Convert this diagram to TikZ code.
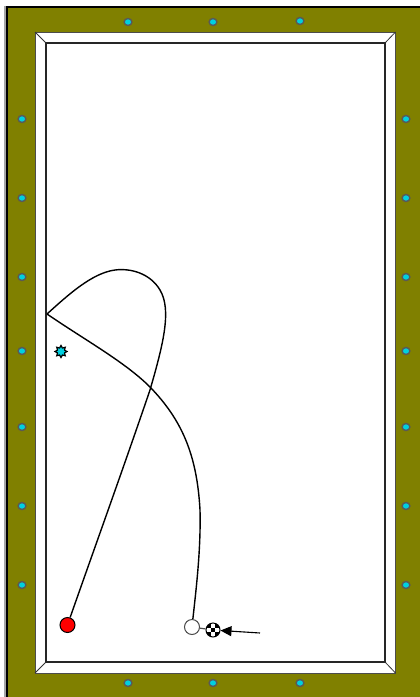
\documentclass[tikz,border=0pt]{standalone}
\usetikzlibrary{arrows.meta,shapes.geometric,shapes.misc}
\definecolor{rail}{HTML}{808000}
\definecolor{dia}{HTML}{00D0E0}
\tikzset{
 x=1pt,y=-1pt,
 diam/.style={circle,draw=black!65,fill=dia,line width=1.4pt,minimum size=7.4pt,inner sep=0pt,xscale=1.05,yscale=.95},
 ball/.style={circle,draw=black,line width=1pt,minimum size=15pt,inner sep=0pt},
 trace/.style={draw=black,line width=1.4pt},
}
\begin{document}
\begin{tikzpicture}
\useasboundingbox (0,0) rectangle (420,697);
\fill[white] (0,0) rectangle (420,697);
\fill[rail] (6.5,7) rectangle (420,697);
\draw[black!35,line width=1.6pt] (4.8,697) -- (4.8,5.5);
\draw[black,line width=2pt] (6.8,697) -- (6.8,7) -- (420,7);
% cushion
\fill[white] (35,32) rectangle (395.5,673);
\draw[black!70,line width=1pt] (395.5,32) -- (35,32) -- (35,673) -- (395.5,673) -- (395.5,32);
\draw[black!80,line width=.8pt] (35,32) -- (46,43) (395.5,32) -- (385,43) (35,673) -- (46,662) (395.5,673) -- (385,662);
\draw[black!85,line width=2pt] (46,43) rectangle (385,662);
% diamonds
\foreach \n/\x/\y in {t1/128/22,t2/213/22,t3/300/21,b1/128/683,b2/213/683,b3/300/683,
 l1/22/119,l2/22/198,l3/22/277,l4/22/351,l5/22/427,l6/22/506,l7/22/585,
 r1/406/119,r2/406/198,r3/406/277,r4/406/351,r5/406/427,r6/406/506,r7/406/585}
 \node[diam] (\n) at (\x,\y) {};
% target star
\node[star,star points=8,star point ratio=1.6,draw=black,fill=dia,line width=1.2pt,minimum size=12pt,inner sep=0pt] (target) at (61,351.5) {};
% balls
\node[ball,fill=red] (objball) at (67.5,625) {};
\node[ball,draw=black!70,fill=white,minimum size=15pt] (ghost) at (192,627) {};
\node[ball,fill=white,minimum size=14pt,path picture={
  \fill[black] (path picture bounding box.center) ++(-2.3pt,-2.3pt) rectangle ++(4.6pt,4.6pt);
  \foreach \sx in {-1,1}\foreach \sy in {-1,1}
    \fill[black] (path picture bounding box.center) ++(\sx*2.3pt,\sy*2.3pt) rectangle ++(\sx*4.6pt,\sy*4.6pt);
}] (cue) at (213,630) {};
\coordinate (railpt) at (47,314);
\coordinate (start) at (260,633);
% traces
\draw[trace] (objball) .. controls (92,555) and (122,472) .. (150,390)
  .. controls (163,345) and (172,310) .. (160,290)
  .. controls (150,273) and (130,268) .. (115,270)
  .. controls (92,273) and (68,295) .. (railpt);
\draw[trace] (railpt) .. controls (85,340) and (125,362) .. (150,387)
  .. controls (182,420) and (197,455) .. (200,510)
  .. controls (201,550) and (196,590) .. (ghost);
\draw[black!70,line width=1.2pt] (ghost) -- (cue);
\draw[black,line width=1.1pt,-{Triangle[length=11pt,width=10pt]}] (start) -- (cue);
\end{tikzpicture}
\end{document}
